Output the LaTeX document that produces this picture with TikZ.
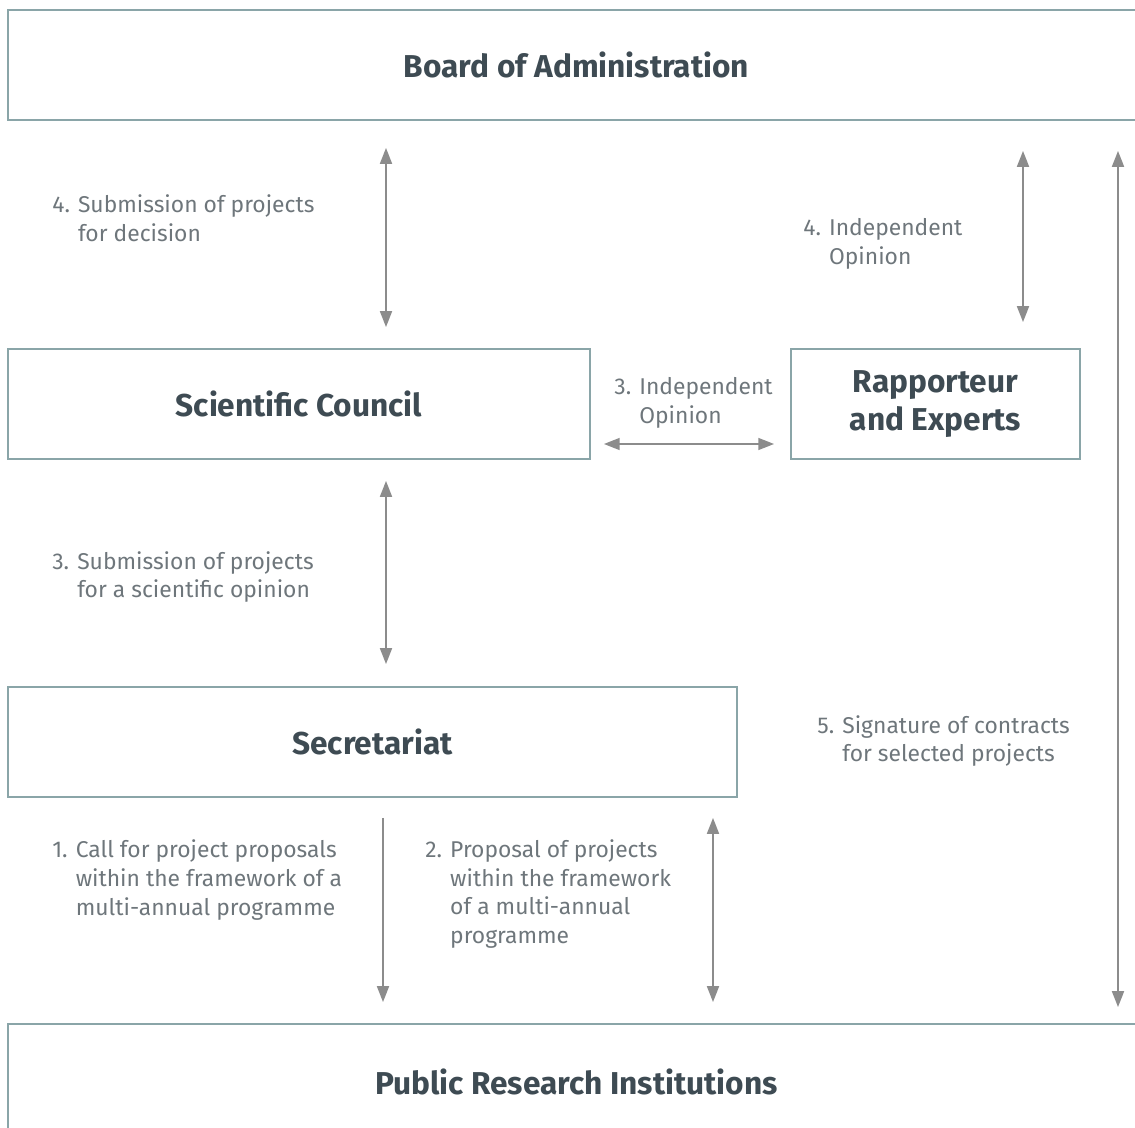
\documentclass[tikz,border=0pt]{standalone}
\usepackage{fontspec}
\setmainfont{Fira Sans}
\usetikzlibrary{arrows.meta,calc}
\definecolor{boxline}{HTML}{8AA5A8}
\definecolor{titletext}{HTML}{3E4B53}
\definecolor{labeltext}{HTML}{6E767B}
\definecolor{arrowgray}{HTML}{8C8C8C}
\begin{document}
\begin{tikzpicture}[x=0.02cm,y=-0.02cm,
    box/.style={draw=boxline,line width=1.1pt,fill=white,inner sep=0pt,minimum height=2.2cm,
      text=titletext,align=center,font=\bfseries\fontsize{18}{21.5}\selectfont},
    lbl/.style={anchor=west,inner sep=0pt,align=left,text=labeltext,
      font=\fontsize{13}{16.4}\selectfont},
    arr/.style={draw=arrowgray,line width=1pt,{Triangle[width=6.8pt,length=9pt]}-{Triangle[width=6.8pt,length=9pt]}},
    arrdown/.style={draw=arrowgray,line width=1pt,-{Triangle[width=6.8pt,length=9pt]}}]
  \clip (0,0) rectangle (1135,1128);

  % boxes
  \node[box,minimum width=22.74cm] (board) at (576.5,65) {Board of Administration};
  \node[box,minimum width=11.64cm] (sc) at (299,404) {Scientific Council};
  \node[box,minimum width=5.78cm] (rap) at (935.5,404) {Rapporteur\\and Experts};
  \node[box,minimum width=14.58cm] (sec) at (372.5,742) {Secretariat};
  \node[box,minimum width=22.74cm,minimum height=2.32cm] (pri) at (576.5,1082) {Public Research Institutions};

  % labels
  \node[lbl] (l4a) at (52,218) {4. Submission of projects\\\phantom{4. }for decision};
  \node[lbl] (l4b) at (803,244) {4. Independent\\\phantom{4. }Opinion};
  \node[lbl] (l3a) at (614,403) {3. Independent\\\phantom{3. }Opinion};
  \node[lbl] (l3b) at (52,577) {3. Submission of projects\\\phantom{3. }for a scientific opinion};
  \node[lbl] (l5) at (817,741) {5. Signature of contracts\\\phantom{5. }for selected projects};
  \node[lbl] (l1) at (52,880) {1. Call for project proposals\\\phantom{1. }within the framework of a\\\phantom{1. }multi-annual programme};
  \node[lbl] (l2) at (425,894) {2. Proposal of projects\\\phantom{2. }within the framework\\\phantom{2. }of a multi-annual\\\phantom{2. }programme};

  % where the arrows run
  \coordinate (xa) at (386,0);
  \coordinate (xb) at (1023,0);
  \coordinate (xc) at (383,0);
  \coordinate (xd) at (713,0);
  \coordinate (xe) at (1118,0);
  \coordinate (yh) at (0,444);

  % arrows
  \draw[arr,shorten <=0.54cm,shorten >=0.42cm] (board.south -| xa) -- (sc.north -| xa);
  \draw[arr,shorten <=0.6cm,shorten >=0.52cm] (board.south -| xb) -- (rap.north -| xb);
  \draw[arr,shorten <=0.26cm,shorten >=0.32cm] (sc.east |- yh) -- (rap.west |- yh);
  \draw[arr,shorten <=0.42cm,shorten >=0.44cm] (sc.south -| xa) -- (sec.north -| xa);
  \draw[arrdown,shorten <=0.4cm,shorten >=0.42cm] (sec.south -| xc) -- (pri.north -| xc);
  \draw[arr,shorten <=0.4cm,shorten >=0.42cm] (sec.south -| xd) -- (pri.north -| xd);
  \draw[arr,shorten <=0.6cm,shorten >=0.32cm] (board.south -| xe) -- (pri.north -| xe);
\end{tikzpicture}
\end{document}
